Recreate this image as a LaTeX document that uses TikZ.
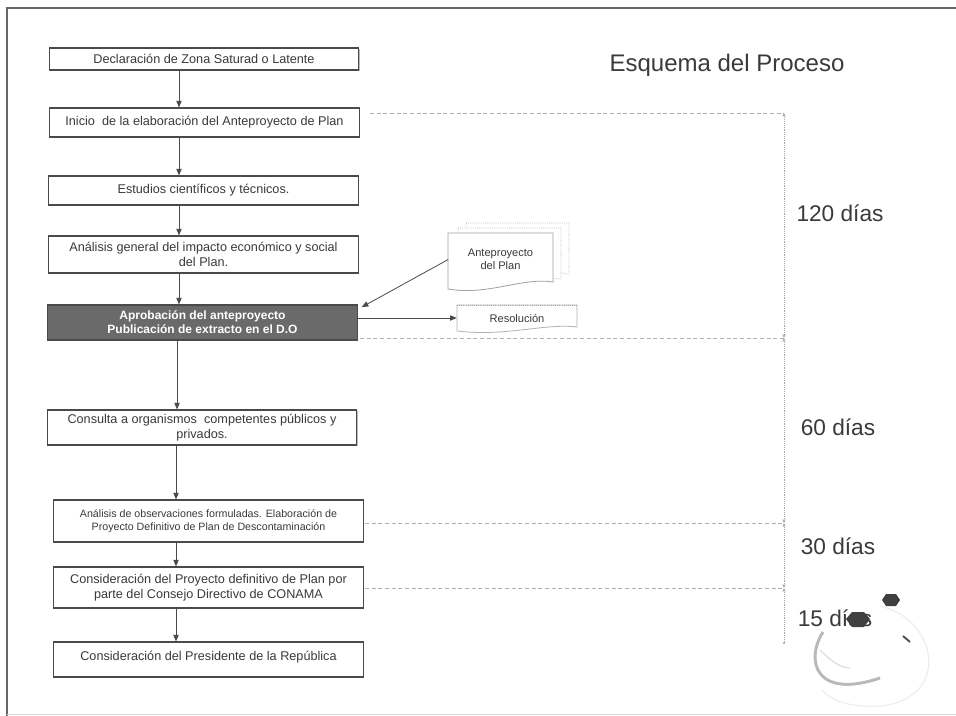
\documentclass[tikz,border=0pt]{standalone}
\usepackage{fontspec}
\setmainfont{Liberation Sans}
\usetikzlibrary{arrows.meta,shadows}
\definecolor{ink}{HTML}{3A3A3A}
\definecolor{edge}{HTML}{4A4A4A}
\definecolor{darkfill}{HTML}{6A6A6A}
\definecolor{guide}{HTML}{B0B0B0}
\begin{document}
\begin{tikzpicture}[x=0.75pt,y=-0.75pt,
  stepbox/.style={draw=edge, line width=0.8pt, fill=white, text=ink,
    font=\fontsize{9.5}{11}\selectfont, align=center, inner sep=0pt,
    minimum width=232pt,
    drop shadow={shadow xshift=0.7pt, shadow yshift=-0.9pt, fill=gray!55, opacity=1}},
  darkbox/.style={stepbox, fill=darkfill, text=white, font=\fontsize{9}{10.5}\selectfont\bfseries},
  smallbox/.style={stepbox, font=\fontsize{8}{10}\selectfont},
  arr/.style={-{Triangle[length=5pt,width=4pt]}, draw=edge, line width=0.6pt},
  dimarr/.style={{Stealth[length=3pt,width=2.5pt]}-{Stealth[length=3pt,width=2.5pt]}, draw=gray!70, line width=0.4pt, densely dotted},
  guideline/.style={draw=guide, line width=0.6pt, densely dashed},
  doclabel/.style={text=ink, font=\fontsize{8.3}{9.8}\selectfont, align=center, inner sep=0pt},
  daylabel/.style={text=ink, font=\fontsize{17}{19}\selectfont, inner sep=0pt},
  pagefront/.style={draw=gray!75, line width=0.6pt, fill=white},
  pageback/.style={draw=gray!60, line width=0.6pt, densely dotted, fill=white}]
\useasboundingbox (0,0) rectangle (956,716);
\fill[white] (0,0) rectangle (956,716);
% frame
\draw[line width=1.4pt, draw=gray!80!black] (956,8) -- (7,8) -- (7,716);
\draw[line width=0.6pt, draw=gray!30] (7,714) -- (956,714);

% title
\node[text=ink, font=\fontsize{18}{20}\selectfont, inner sep=0pt] (title) at (727,65) {Esquema del Proceso};

% boxes
\node[stepbox, minimum height=16.5pt] (b1) at (204,59) {Declaración de Zona Saturad o Latente};
\node[stepbox, minimum height=21.75pt] (b2) at (204.5,122.5) {Inicio \ de la elaboración del Anteproyecto de Plan};
\node[stepbox, minimum height=21.75pt] (b3) at (203.5,190.5) {Estudios científicos y técnicos.};
\node[stepbox, minimum height=27.75pt] (b4) at (203.5,254.5) {Análisis general del impacto económico y social\\del Plan.};
\node[darkbox, minimum height=26.25pt] (b5) at (202.5,322.5) {Aprobación del anteproyecto\\Publicación de extracto en el D.O};
\node[stepbox, minimum height=26.25pt] (b6) at (202,427.5) {Consulta a organismos \ competentes públicos y\\privados.};
\node[smallbox, minimum height=31.5pt] (b7) at (208.5,521) {Análisis de observaciones formuladas. Elaboración de\\Proyecto Definitivo de Plan de Descontaminación};
\node[stepbox, minimum height=30.75pt] (b8) at (208.5,587.5) {Consideración del Proyecto definitivo de Plan por\\parte del Consejo Directivo de CONAMA};
\node[stepbox, minimum height=26.25pt, text height=9pt, text depth=8pt] (b9) at (208.5,659.5) {Consideración del Presidente de la República};

% spines for the vertical connectors
\coordinate (spineA) at (179,0);
\coordinate (spineB) at (177,0);
\coordinate (spineC) at (176,0);
\draw[arr] (b1.south -| spineA) -- (b2.north -| spineA);
\draw[arr] (b2.south -| spineA) -- (b3.north -| spineA);
\draw[arr] (b3.south -| spineA) -- (b4.north -| spineA);
\draw[arr] (b4.south -| spineA) -- (b5.north -| spineA);
\draw[arr] (b5.south -| spineB) -- (b6.north -| spineB);
\draw[arr] (b6.south -| spineC) -- (b7.north -| spineC);
\draw[arr] (b7.south -| spineC) -- (b8.north -| spineC);
\draw[arr] (b8.south -| spineC) -- (b9.north -| spineC);

% document stack: Anteproyecto del Plan
\path[pageback] (466,223) -- (569,223) -- (569,274) .. controls (540,269) and (505,286) .. (466,280) -- cycle;
\path[pageback] (458,228) -- (561,228) -- (561,279) .. controls (532,274) and (497,291) .. (458,285) -- cycle;
\path[pagefront] (448,233) -- (553,233) -- (553,282) .. controls (522,277) and (488,296) .. (448,289) -- cycle;
\node[doclabel, minimum width=78pt, minimum height=39pt] (ante) at (500.5,259.5) {Anteproyecto\\del Plan};

% document: Resolución
\path[pagefront, draw=gray!60] (457,305) -- (577,305) -- (577,327) .. controls (545,323) and (505,337) .. (457,331) -- cycle;
\draw[gray!70, line width=0.6pt, densely dotted] (457,305) -- (577,305);
\node[doclabel, minimum width=90pt, minimum height=18pt] (res) at (517,318) {Resolución};

% connectors to documents
\draw[arr] (ante.west) -- ([xshift=3pt,yshift=-2pt]b5.north east);
\draw[arr] (b5.east |- res.west) -- (res.west);

% time guide lines
\coordinate (d0) at (784,113);
\coordinate (d1) at (784,338);
\coordinate (d2) at (784,523);
\coordinate (d3) at (784,588);
\coordinate (d4) at (784,643);
\draw[guideline] (370,113) -- (d0);
\draw[guideline] (360,338) -- (d1);
\draw[guideline] (365,523) -- (d2);
\draw[guideline] (365,588) -- (d3);
\draw[dimarr] (d0) -- (d1);
\draw[dimarr] (d1) -- (d2);
\draw[dimarr] (d2) -- (d3);
\draw[draw=gray!70, line width=0.4pt, densely dotted, {Stealth[length=3pt,width=2.5pt]}-] (d3) -- (d4);
\fill[gray!70] (d4) circle (1.2);

\node[daylabel] (t120) at (840,213) {120 días};
\node[daylabel] (t60) at (838,427) {60 días};
\node[daylabel] (t30) at (838,546) {30 días};
\node[daylabel] (t15) at (835,618) {15 días};

% faint logo doodle
\draw[gray!15, line width=0.8pt] (880,606) .. controls (940,620) and (950,700) .. (880,706) .. controls (850,708) and (830,700) .. (822,690);
\draw[gray!55, line width=2.2pt] (823,632) .. controls (805,660) and (815,700) .. (880,678);
\draw[gray!30, line width=0.8pt] (820,650) .. controls (830,660) and (840,668) .. (850,668);
\fill[gray!50!black] (846,619) -- (852,612) -- (864,612) -- (870,619) -- (864,627) -- (852,627) -- cycle;
\fill[gray!50!black] (882,600) -- (886,594) -- (896,594) -- (900,600) -- (896,606) -- (886,606) -- cycle;
\draw[gray!60!black, line width=1.4pt] (903,636) -- (910,642);
\end{tikzpicture}
\end{document}
